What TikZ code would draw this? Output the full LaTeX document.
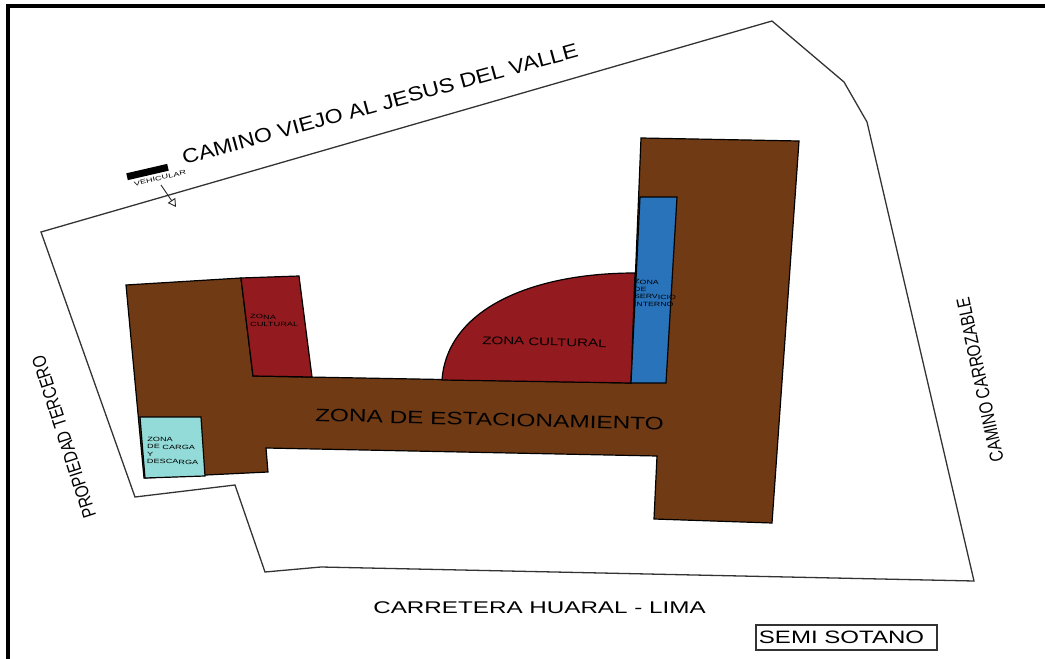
\documentclass[tikz,border=0pt]{standalone}
\usepackage{fontspec}
\setmainfont{Liberation Sans}
\usetikzlibrary{arrows.meta}
\definecolor{zonebrown}{HTML}{703A15}
\definecolor{zonered}{HTML}{931A1E}
\definecolor{zoneblue}{HTML}{2873BA}
\definecolor{zoneteal}{HTML}{93DBD8}
\newcommand{\wide}[2]{\scalebox{#1}[1]{#2}}
\newcommand{\widestack}[2]{\scalebox{#1}[1]{\begin{tabular}{@{}l@{}}#2\end{tabular}}}
\tikzset{
  zone/.style={draw=black,line width=1.2pt,line join=miter},
  street/.style={inner sep=0pt,font=\fontsize{17}{17}\selectfont},
  tiny/.style={inner sep=0pt,font=\fontsize{6.2}{7.4}\selectfont},
}
\begin{document}
\begin{tikzpicture}[x=1bp,y=-1bp]
	\useasboundingbox (0,0) rectangle (1045,659);
	%% frame
	\draw [line width=4bp] (8,659) -- (8,6) -- (1045,6);
	%% plot
	\draw [line width=1.3pt,black!80] (41,232) -- (772,21) -- (844,82) -- (867,122) -- (974,581) -- (321,567) -- (265,572) -- (235,485) -- (135,497) -- cycle;
	%% zones
	\draw [zone,fill=zonebrown] (126,285) -- (241,278) -- (253,376) -- (631,383) -- (641,138) -- (799,141) -- (772,523) -- (654,519) -- (657,456) -- (266,448) -- (268,472) -- (144,478) -- cycle;
	\draw [zone,fill=zonered] (241,278) -- (299,276) -- (312,377) -- (253,376) -- cycle;
	\draw [zone,fill=zonered] (442,380) .. controls (447,310) and (530,273) .. (635,273) -- (631,383) -- cycle;
	\draw [zone,fill=zoneblue] (640,197) -- (677,197) -- (666,383) -- (631,383) -- cycle;
	\draw [zone,fill=zoneteal] (140,417) -- (201,417) -- (205,476) -- (145,478) -- cycle;
	%% labels
	\node (viejo) at (380,104) [street,rotate=15.3,font=\fontsize{20}{20}\selectfont] {\wide{1.16}{CAMINO VIEJO AL JESUS DEL VALLE}};
	\node (tercero) at (64,437) [street,rotate=108,font=\fontsize{19}{19}\selectfont] {\wide{0.81}{PROPIEDAD TERCERO}};
	\node (carrozable) at (980,380) [street,rotate=102,font=\fontsize{19}{19}\selectfont] {\wide{0.8}{CAMINO CARROZABLE}};
	\node (huaral) at (539.5,608) [street] {\wide{1.43}{CARRETERA HUARAL - LIMA}};
	\node (estac) at (489.5,419.5) [street,rotate=-1.5,font=\fontsize{18}{18}\selectfont] {\wide{1.36}{ZONA DE ESTACIONAMIENTO}};
	\node (cultural) at (544.5,342) [tiny,rotate=-1.5,font=\fontsize{11}{11}\selectfont] {\wide{1.37}{ZONA CULTURAL}};
	\node (culturalB) at (250,321) [tiny,rotate=-1,anchor=west] {\widestack{1.5}{ZONA\\CULTURAL}};
	\node (carga) at (147,451) [tiny,rotate=-1,anchor=west] {\widestack{1.48}{ZONA\\DE CARGA\\Y\\DESCARGA}};
	\node (servicio) at (634,293.5) [tiny,rotate=-1,anchor=west] {\widestack{1.42}{ZONA\\DE\\SERVICIO\\INTERNO}};
	\node (sotano) at (846.5,637.5) [draw=black!80,line width=1.5pt,inner sep=0pt,minimum width=181bp,minimum height=25bp,font=\fontsize{18}{18}\selectfont] {\hspace*{-5bp}\wide{1.34}{SEMI SOTANO}\hspace*{5bp}};
	%% entrance
	\node (bar) at (147.5,172) [fill=black,rotate=13,inner sep=0pt,minimum width=42bp,minimum height=7bp] {};
	\node (vehic) at (160,178) [tiny,rotate=13] {\wide{1.5}{VEHICULAR}};
	\coordinate (from) at (161,185);
	\coordinate (entry) at (176,207);
	\draw [-{Triangle[open,length=8bp,width=9bp]},line width=0.9pt,black!85] (from) -- (entry);
\end{tikzpicture}
\end{document}
